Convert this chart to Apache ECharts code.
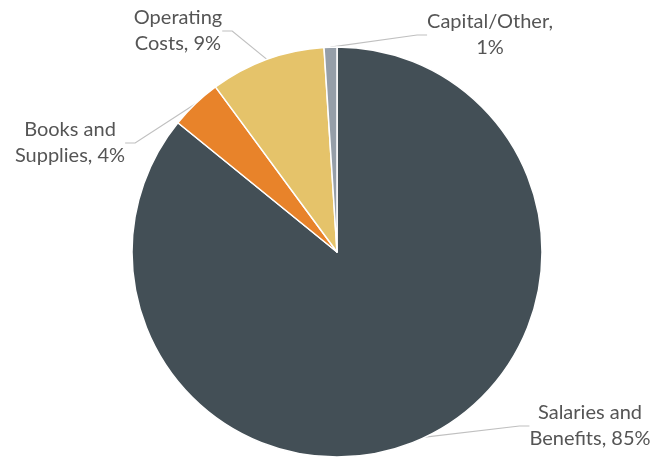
<!DOCTYPE html>
<html>
<head>
<meta charset="utf-8">
<script src="https://cdn.jsdelivr.net/npm/echarts@6/dist/echarts.min.js"></script>
<style>
  html, body { margin: 0; padding: 0; background: #ffffff; }
  #chart { width: 653px; height: 458px; }
</style>
</head>
<body>
<div id="chart"></div>
<script>
// Budget breakdown by category (percent of total)
const categories = ['Salaries and\nBenefits', 'Books and\nSupplies', 'Operating\nCosts', 'Capital/Other'];
const values = [85, 4, 9, 1];
const colors = ['#434f56', '#e8832a', '#e5c36a', '#959ea8'];

// Label centre positions (pixels) for each slice
const labelPos = [
  { x: 590, y: 426 },
  { x: 70, y: 143 },
  { x: 178, y: 31 },
  { x: 490, y: 35 }
];

const chart = echarts.init(document.getElementById('chart'), null, { renderer: 'canvas' });

chart.setOption({
  animation: false,
  backgroundColor: '#ffffff',
  series: [{
    type: 'pie',
    center: [337, 252],
    radius: 205,
    startAngle: 90,
    clockwise: true,
    avoidLabelOverlap: false,
    itemStyle: { borderColor: '#ffffff', borderWidth: 1.5 },
    label: {
      show: true,
      position: 'outside',
      fontFamily: 'Lato',
      fontSize: 20,
      lineHeight: 26,
      color: '#555555',
      formatter: function (p) {
        const sep = p.dataIndex === 3 ? ',\n' : ', ';
        return p.name + sep + p.value + '%';
      }
    },
    labelLine: {
      show: true,
      length: 10,
      length2: 10,
      lineStyle: { color: '#c0c0c0', width: 1.2 }
    },
    labelLayout: function (params) {
      const p = labelPos[params.dataIndex];
      return { x: p.x, y: p.y, align: 'center', verticalAlign: 'middle' };
    },
    data: categories.map(function (c, i) {
      return { name: c, value: values[i], itemStyle: { color: colors[i] } };
    })
  }]
});
</script>
</body>
</html>
